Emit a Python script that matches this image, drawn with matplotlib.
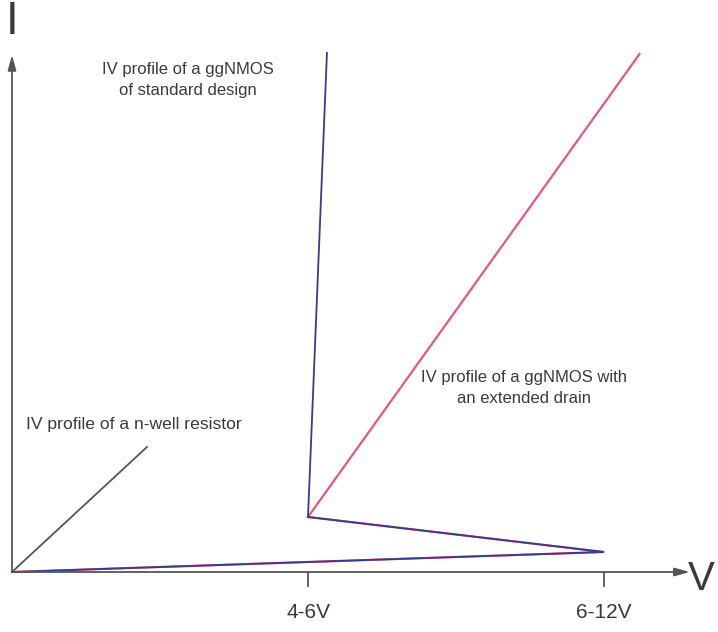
import matplotlib
matplotlib.use("Agg")
import matplotlib.pyplot as plt

plt.rcParams['font.family'] = ['Liberation Sans', 'DejaVu Sans']

# voltage in units of the tick spacing, current in arbitrary units
tick_pos = [1.0, 2.0]
tick_labels = ['4-6V', '6-12V']

resistor_v = [0.0, 0.456]
resistor_i = [0.0, 125.0]

standard_v = [0.0, 2.0, 1.0, 1.064]
standard_i = [0.0, 20.0, 55.0, 519.0]

extended_v = [0.0, 2.0, 1.0, 2.12]
extended_i = [0.0, 20.0, 55.0, 518.0]

fig = plt.figure(figsize=(7.18, 6.32), dpi=100)
ax = fig.add_axes([0, 0, 1, 1])
ax.set_xlim(-12 / 296, 706 / 296)
ax.set_ylim(-60, 572)
ax.axis('off')

axis_col = '#555555'
txt_col = '#3a3a3a'
# axes with arrow heads
ax.annotate('', xy=(2.29, 0), xytext=(0, 0),
            arrowprops=dict(arrowstyle='-|>,head_length=0.9,head_width=0.25',
                            color=axis_col, lw=1.3, shrinkA=0, shrinkB=0))
ax.annotate('', xy=(0, 517), xytext=(0, 0),
            arrowprops=dict(arrowstyle='-|>,head_length=0.9,head_width=0.25',
                            color=axis_col, lw=1.3, shrinkA=0, shrinkB=0))

for p, lab in zip(tick_pos, tick_labels):
    ax.plot([p, p], [0, -14], color=axis_col, lw=1.3)
    ax.text(p, -41, lab, ha='center', va='center', fontsize=15, color=txt_col)

ax.text(0.0, 550, 'I', ha='center', va='center', fontsize=33, color=txt_col)
ax.text(2.375, -7, 'V', ha='right', va='center', fontsize=29, color=txt_col)

# IV curves
ax.plot(resistor_v, resistor_i, color='#555555', lw=1.3)
ax.plot(extended_v, extended_i, color='#e5587a', lw=1.6, solid_joinstyle='miter')
ax.plot(standard_v, standard_i, color='#3a3a8a', lw=1.3, solid_joinstyle='miter')

ax.text((188 - 12) / 296, 572 - 80, 'IV profile of a ggNMOS\nof standard design',
        ha='center', va='center', fontsize=12, color=txt_col, linespacing=1.5)
ax.text((524 - 12) / 296, 572 - 388, 'IV profile of a ggNMOS with\nan extended drain',
        ha='center', va='center', fontsize=12, color=txt_col, linespacing=1.5)
ax.text((26 - 12) / 296, 572 - 424, 'IV profile of a n-well resistor',
        ha='left', va='center', fontsize=12.6, color=txt_col)

fig.savefig('out.png', dpi=100)
